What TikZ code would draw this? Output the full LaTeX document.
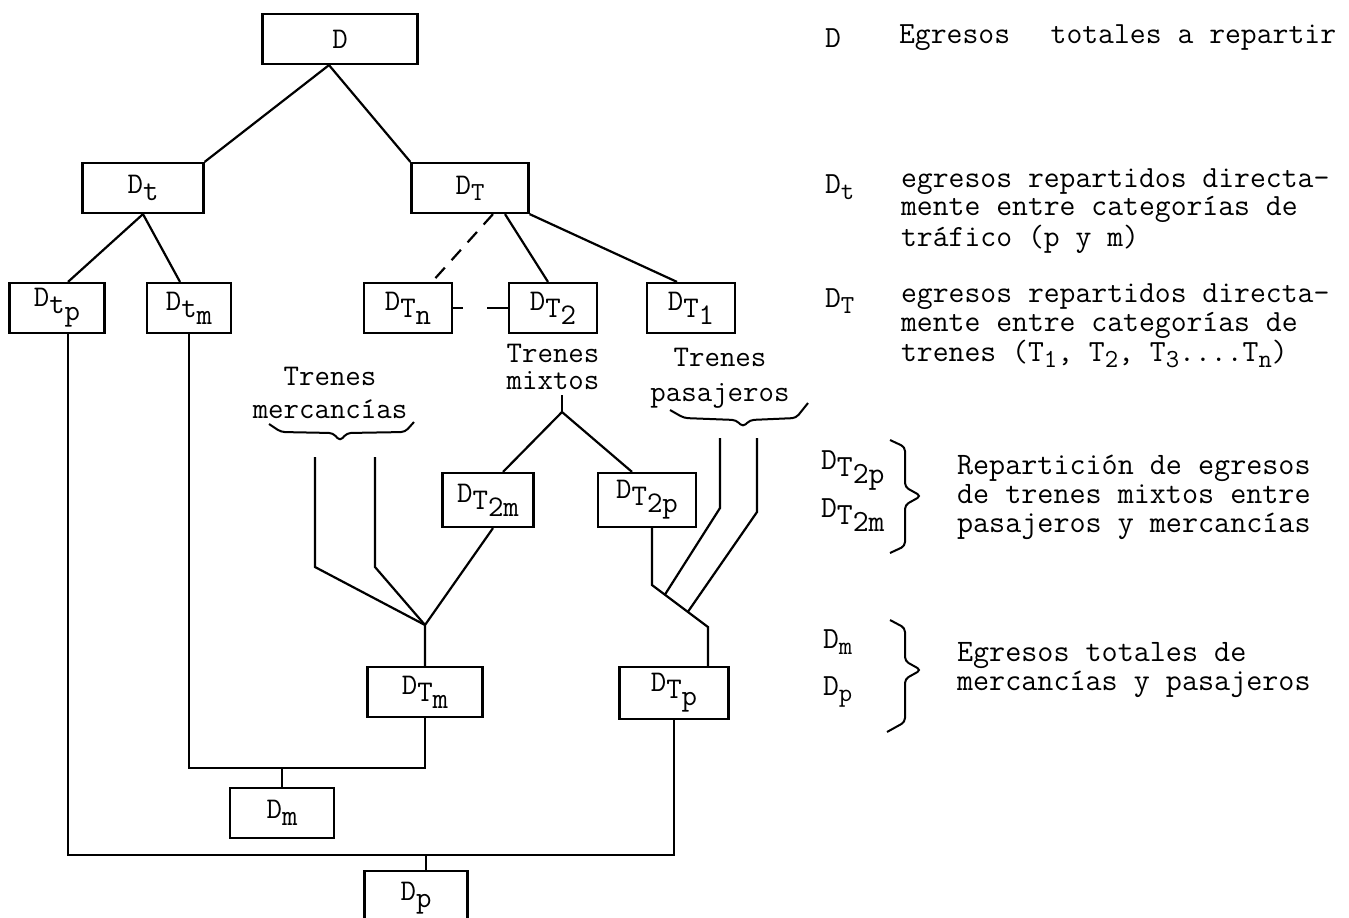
\documentclass[tikz,border=0pt]{standalone}
\usepackage{fontspec}
\usetikzlibrary{calc}

% subscripts, typewriter style
\newcommand{\lo}[1]{\raisebox{-3.5pt}{#1}}
\newcommand{\los}[1]{\raisebox{-3pt}{\fontsize{13}{13}\selectfont #1}}

\begin{document}
\begin{tikzpicture}[x=0.5pt, y=-0.5pt, line width=1.1pt,
	caja/.style={draw, rectangle, inner sep=0pt, minimum height=25pt, font=\fontsize{15}{15}\ttfamily},
	rotulo/.style={align=center, inner sep=0pt},
	leyenda/.style={anchor=west, align=left, inner sep=0pt, font=\fontsize{15.4}{13}\ttfamily},
	llave/.style={line width=1pt, rounded corners=2pt}]

				\useasboundingbox (0,0) rectangle (1349,917);
				\clip (0,0) rectangle (1349,917);

				% Draw the boxes
				\node[caja, minimum width=77.5pt] (D) at (340,39) {D};
				\node[caja, minimum width=60.5pt] (Dt) at (143,188) {D\lo{t}};
				\node[caja, minimum width=58.5pt] (DT) at (470,188) {D\los{T}};
				\node[caja, minimum width=47.5pt] (Dtp) at (57,308) {D\lo{t\lo{p}}};
				\node[caja, minimum width=42pt] (Dtm) at (189,308) {D\lo{t\lo{m}}};
				\node[caja, minimum width=44pt] (DTn) at (408,308) {D\lo{T\lo{n}}};
				\node[caja, minimum width=44pt] (DT2) at (553,308) {D\lo{T\lo{2}}};
				\node[caja, minimum width=44pt] (DT1) at (691,308) {D\lo{T\lo{1}}};
				\node[caja, minimum width=45.5pt, minimum height=27pt] (DT2m) at (488,500) {D\lo{T\lo{2m}}};
				\node[caja, minimum width=49pt, minimum height=27pt] (DT2p) at (647,500) {D\lo{T\lo{2p}}};
				\node[caja, minimum width=57.5pt] (DTm) at (425,692) {D\lo{T\lo{m}}};
				\node[caja, minimum width=54.5pt, minimum height=26pt] (DTp) at (674,693) {D\lo{T\lo{p}}};
				\node[caja, minimum width=52pt] (Dm) at (282,813) {D\lo{m}};
				\node[caja, minimum width=51.5pt, minimum height=27pt] (Dp) at (416,898) {D\lo{p}};

				% Labels of the train groups
				\node[rotulo, font=\fontsize{15}{16.5}\ttfamily] (mer) at (330,393) {Trenes\\mercancías};
				\node[rotulo, font=\fontsize{15}{13.5}\ttfamily] (mix) at (553,367) {Trenes\\mixtos};
				\node[rotulo, font=\fontsize{15}{17.5}\ttfamily] (pas) at (720,378) {Trenes\\pasajeros};

				\coordinate (mixt) at (562,395);
				\coordinate (mixj) at (562,412);
				\coordinate (m1) at (315,457);
				\coordinate (m1b) at (315,567);
				\coordinate (m2) at (375,457);
				\coordinate (m2b) at (375,567);
				\coordinate (mj) at (425,625);
				\coordinate (p1) at (720,438);
				\coordinate (p1b) at (720,508);
				\coordinate (p2) at (757,438);
				\coordinate (p2b) at (757,512);
				\coordinate (pb) at (652,585);
				\coordinate (pc) at (708,627);
				\coordinate (busm) at (0,768);
				\coordinate (busp) at (0,855);

				% Draw the tree
				\draw ([xshift=-5.5pt]D.south) -- (Dt.north east);
				\draw ([xshift=-5.5pt]D.south) -- (DT.north west);
				\draw (Dt.south) -- ([xshift=5.5pt]Dtp.north);
				\draw (Dt.south) -- ([xshift=-4.5pt]Dtm.north);
				\draw[dash pattern=on 7pt off 5pt] ([xshift=11.5pt]DT.south) -- ([xshift=12pt]DTn.north);
				\draw ([xshift=17.5pt]DT.south) -- ([xshift=-2.5pt]DT2.north);
				\draw (DT.south east) -- ([xshift=-7pt]DT1.north);
				\draw[dash pattern=on 5pt off 12pt on 11pt off 1pt] (DTn.east) -- (DT2.west);

				% mixed trains
				\draw (mixt) -- (mixj);
				\draw (mixj) -- ([xshift=7.5pt]DT2m.north);
				\draw (mixj) -- ([xshift=-7.5pt]DT2p.north);

				% goods trains
				\draw (m1) -- (m1b) -- (mj);
				\draw (m2) -- (m2b) -- (mj);
				\draw ([xshift=2.5pt]DT2m.south) -- (mj) -- (DTm.north);

				% passenger trains
				\draw (pb |- DT2p.south) -- (pb) -- (pc) -- (pc |- DTp.north);
				\draw (p1) -- (p1b) -- ($(pb)!0.23!(pc)$);
				\draw (p2) -- (p2b) -- ($(pb)!0.64!(pc)$);

				% Draw the collecting lines
				\draw (Dtm.south) |- (DTm.south |- busm) -- (DTm.south);
				\draw (Dm.north) -- (Dm.north |- busm);
				\draw ([xshift=5.5pt]Dtp.south) |- (DTp.south |- busp) -- (DTp.south);
				\draw ($(Dp.north)+(10,0)$) -- ($(Dp.north |- busp)+(10,0)$);

				% Braces under the labels
				\draw[llave] (269,424) -- (281,432) -- (333,433) -- (340,441) -- (347,433) -- (405,432) -- (414,422);
				\draw[llave] (670,410) -- (684,418) -- (736,420) -- (743,427) -- (750,420) -- (796,418) -- (808,403);

				% Legend
				\node[leyenda] (kD) at (824,38) {D};
				\node[leyenda] (tD) at (898,38) {Egresos\hspace{0.8em} totales a repartir};
				\node[leyenda] (kDt) at (824,187) {D\los{t}};
				\node[leyenda] (tDt) at (900,211) {egresos repartidos directa-\\mente entre categorías de\\tráfico (p y m)};
				\node[leyenda] (kDT) at (824,301) {D\los{T}};
				\node[leyenda] (tDT) at (900,326) {egresos repartidos directa-\\mente entre categorías de\\trenes (T\los{1}, T\los{2}, T\los{3}....T\los{n})};
				\node[leyenda] (kDT2p) at (820,470) {D\lo{T\lo{2p}}};
				\node[leyenda] (kDT2m) at (820,515) {D\lo{T\lo{2m}}};
				\draw[llave] (890,440) -- (905,447) -- (905,487) -- (921,496) -- (905,505) -- (905,546) -- (890,553);
				\node[leyenda, font=\fontsize{15.6}{14.5}\ttfamily] (tRep) at (956,497) {Repartición de egresos\\de trenes mixtos entre\\pasajeros y mercancías};
				\node[leyenda] (kDm) at (822,642) {D\los{m}};
				\node[leyenda] (kDp) at (822,692) {D\los{p}};
				\draw[llave] (890,620) -- (905,628) -- (905,661) -- (921,670) -- (905,679) -- (905,722) -- (887,732);
				\node[leyenda, font=\fontsize{15.6}{14.5}\ttfamily] (tEg) at (956,670) {Egresos totales de\\mercancías y pasajeros};
\end{tikzpicture}
\end{document}
